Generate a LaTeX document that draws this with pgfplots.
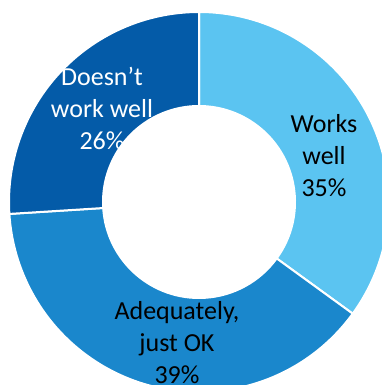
\documentclass[border=0pt]{standalone}
\usepackage{fontspec}
\setmainfont{Carlito}
\usepackage{pgfplots}
\usepackage{pgfplotstable}
\pgfplotsset{compat=1.18}
\definecolor{cWorks}{HTML}{5BC4F1}
\definecolor{cAdeq}{HTML}{1A87CC}
\definecolor{cDoes}{HTML}{045BA8}

\pgfplotstableread{
label pct
Works 35
Adequately 39
Doesnt 26
}\shares

\pgfplotstablegetelem{0}{pct}\of\shares \let\pA\pgfplotsretval
\pgfplotstablegetelem{1}{pct}\of\shares \let\pB\pgfplotsretval
\pgfplotstablegetelem{2}{pct}\of\shares \let\pC\pgfplotsretval
\pgfmathsetmacro{\aA}{90}
\pgfmathsetmacro{\aB}{90-3.6*\pA}
\pgfmathsetmacro{\aC}{\aB-3.6*\pB}
\pgfmathsetmacro{\aD}{\aC-3.6*\pC}
\def\Ro{190pt}
\def\Ri{96pt}

\newcommand{\donutwedge}[3]{%
  \fill[#1, draw=white, line width=2pt, line join=miter]
    ([shift={(#2:\Ro)}]c) arc[start angle=#2, end angle=#3, radius=\Ro]
    -- ([shift={(#3:\Ri)}]c) arc[start angle=#3, end angle=#2, radius=\Ri] -- cycle;}

\begin{document}
\begin{tikzpicture}
\begin{axis}[scale only axis, width=382pt, height=385pt,
  xmin=0, xmax=382, ymin=0, ymax=385, y dir=reverse,
  hide axis, clip mode=global]
\coordinate (c) at (axis cs:199,202);
\donutwedge{cWorks}{\aA}{\aB}
\donutwedge{cAdeq}{\aB}{\aC}
\donutwedge{cDoes}{\aC}{\aD}
\node[align=center, font=\fontsize{26}{32}\selectfont, text=black] at (axis cs:324,156) {Works\\well\\35\%};
\node[align=center, font=\fontsize{26}{32}\selectfont, text=black] at (axis cs:177,343) {Adequately,\\just OK\\39\%};
\node[align=center, font=\fontsize{26}{32}\selectfont, text=white] at (axis cs:102,108) {Doesn’t\\work well\\26\%};
\end{axis}
\pgfresetboundingbox
\useasboundingbox (current axis.south west) rectangle (current axis.north east);
\end{tikzpicture}
\end{document}
